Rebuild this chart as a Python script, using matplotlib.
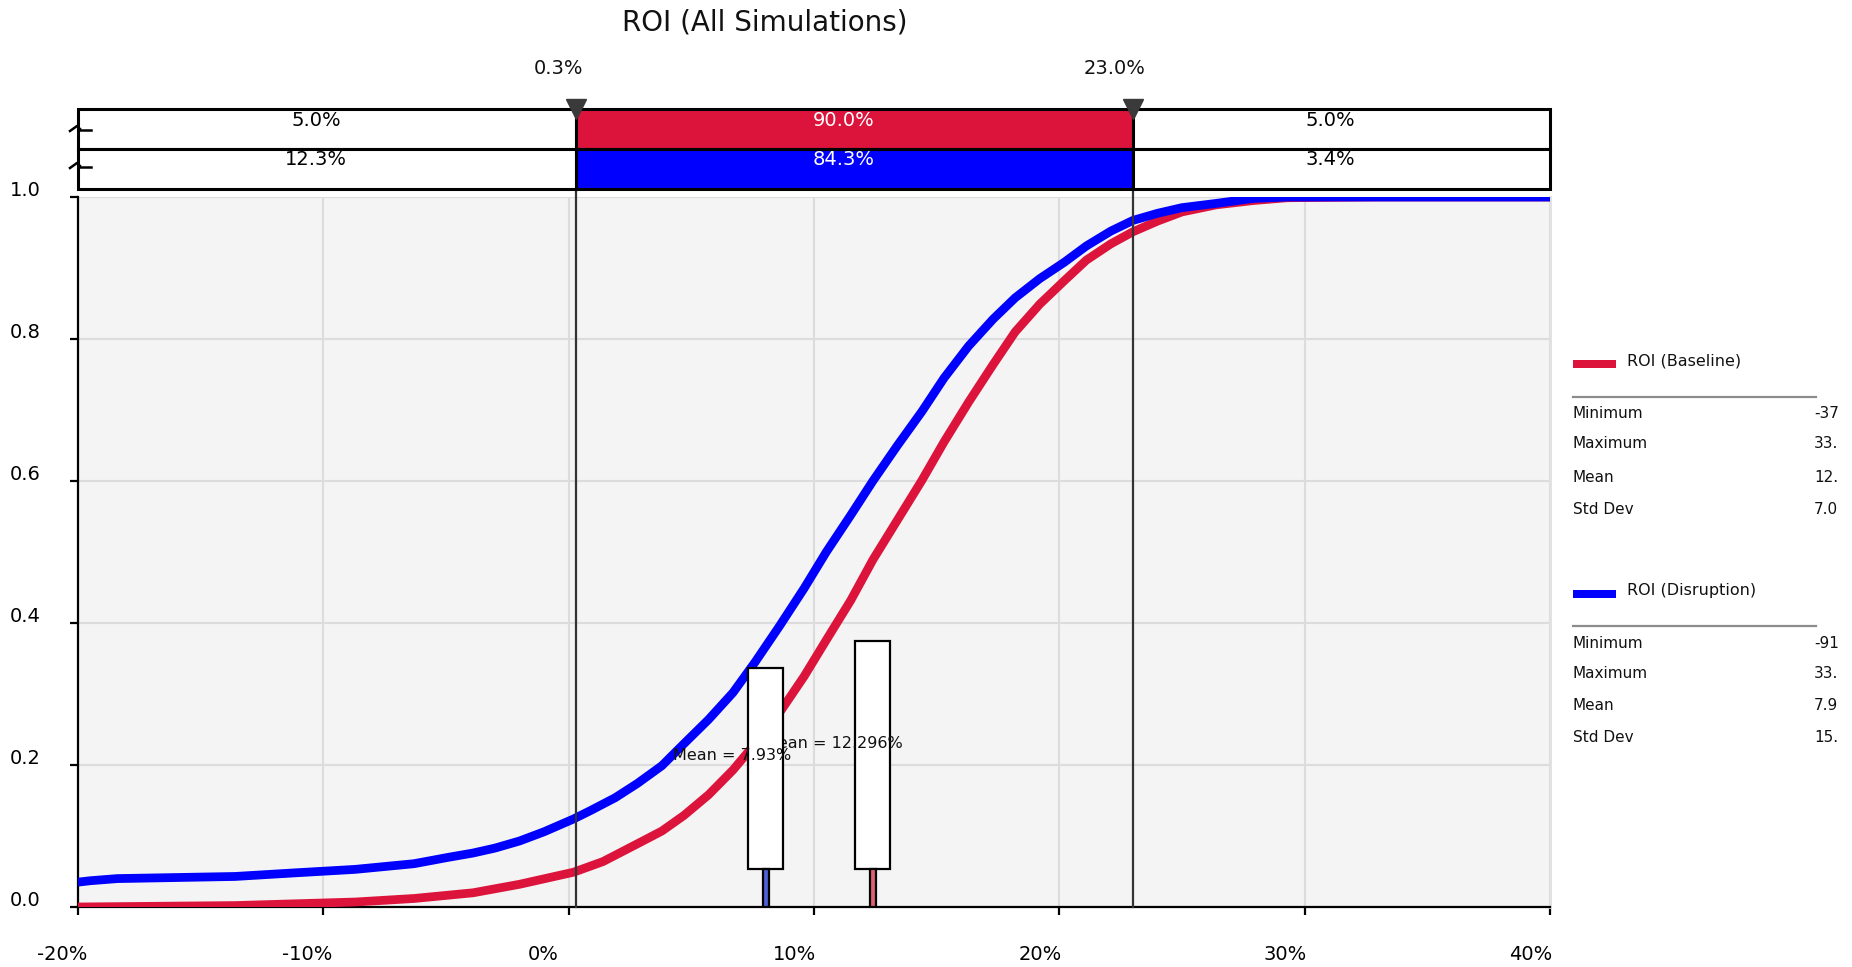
import matplotlib
matplotlib.use("Agg")
import matplotlib.pyplot as plt
from matplotlib.transforms import Affine2D, ScaledTranslation, Bbox, TransformedBbox
from matplotlib.lines import Line2D
from matplotlib.patches import Rectangle

plt.rcParams['font.family'] = ['DejaVu Sans']

## --------------------------- Data --------------------------------------

title = "ROI (All Simulations)"
series_names = ["ROI (Baseline)", "ROI (Disruption)"]
series_colors = ["#DC143C", "#0000FF"]
stem_colors = ["#E0606F", "#4F5FD6"]

# cumulative curves (x in %, cumulative probability)
base_x = [-20, -13.6, -8.7, -6.3, -3.9, -2.0, 0.2, 1.4, 2.8, 3.8, 4.7, 5.7, 6.7, 7.6, 8.6, 9.6,
          10.5, 11.5, 12.4, 13.4, 14.4, 15.3, 16.3, 17.3, 18.2, 19.2, 20.2, 21.1, 22.1, 23.0,
          24.0, 25.0, 26.4, 27.9, 29.3, 33.0, 40.0]
base_p = [0.0, 0.002, 0.007, 0.012, 0.020, 0.032, 0.049, 0.064, 0.089, 0.107, 0.129, 0.158, 0.193, 0.230, 0.274, 0.325,
          0.376, 0.432, 0.489, 0.545, 0.601, 0.655, 0.711, 0.764, 0.810, 0.849, 0.882, 0.911, 0.934, 0.951,
          0.966, 0.979, 0.989, 0.995, 0.999, 1.0, 1.0]

disr_x = [-20, -19.5, -18.4, -13.6, -11.2, -8.7, -6.3, -4.9, -3.9, -3.0, -2.0, -1.0, 0.2, 0.9, 1.9, 2.8,
          3.8, 4.7, 5.7, 6.7, 7.6, 8.6, 9.6, 10.5, 11.5, 12.4, 13.4, 14.4, 15.3, 16.3, 17.3, 18.2,
          19.2, 20.2, 21.1, 22.1, 23.0, 24.0, 25.0, 26.4, 27.9, 29.3, 33.0, 40.0]
disr_p = [0.035, 0.037, 0.040, 0.043, 0.048, 0.053, 0.061, 0.070, 0.076, 0.083, 0.093, 0.106, 0.124, 0.136, 0.154, 0.174,
          0.199, 0.230, 0.264, 0.302, 0.345, 0.396, 0.449, 0.500, 0.552, 0.600, 0.650, 0.698, 0.745, 0.790, 0.828, 0.858,
          0.885, 0.908, 0.931, 0.952, 0.967, 0.977, 0.985, 0.991, 0.998, 1.0, 1.0, 1.0]

# delimiters and band percentages
delims = [0.3, 23.0]
band_edges = [-20.0, 0.3, 23.0, 40.0]
base_pct = ["5.0%", "90.0%", "5.0%"]
disr_pct = ["12.3%", "84.3%", "3.4%"]

# mean markers
means = [12.296, 7.93]
mean_labels = ["Mean = 12.296%", "Mean = 7.93%"]
mean_label_x = [10.77, 6.66]
mean_label_y = [0.230, 0.213]
box_top = [0.374, 0.336]
box_bottom = 0.054

# legend statistics
stat_names = ["Minimum", "Maximum", "Mean", "Std Dev"]
base_stats = ["-37.30%", "33.27%", "12.30%", "7.03%"]
disr_stats = ["-91.32%", "33.27%", "7.93%", "15.53%"]

x_ticks = [-20, -10, 0, 10, 20, 30, 40]
y_ticks = [0.0, 0.2, 0.4, 0.6, 0.8, 1.0]

## --------------------------- Figure --------------------------------------

W, H = 1852, 967
fig = plt.figure(figsize=(W / 100, H / 100), dpi=100)
pix = Affine2D().scale(1.0 / W, -1.0 / H).translate(0, 1) + fig.transFigure


def px_rect(l, t, r, b):
    return [l / W, 1 - b / H, (r - l) / W, (b - t) / H]


def pt(p):
    return p * 0.72


ax = fig.add_axes(px_rect(78, 197, 1550, 907))
band = fig.add_axes(px_rect(78, 109, 1550, 188.5))

## --------------------------- Main plot --------------------------------------

ax.set_facecolor("#F4F4F4")
ax.set_xlim(-20, 40)
ax.set_ylim(0, 1)
ax.grid(True, color="#DCDCDC", linewidth=1.5, zorder=0)
ax.set_axisbelow(True)
ax.spines["top"].set_visible(False)
ax.spines["right"].set_color("#E0E0E0")
ax.spines["right"].set_linewidth(2)
ax.spines["left"].set_linewidth(1.6)
ax.spines["bottom"].set_linewidth(1.6)

ax.plot(base_x, base_p, color=series_colors[0], linewidth=6.3, zorder=3,
        solid_joinstyle="round", solid_capstyle="butt")
ax.plot(disr_x, disr_p, color=series_colors[1], linewidth=6.3, zorder=4,
        solid_joinstyle="round", solid_capstyle="butt")

for d in delims:
    ax.axvline(d, ymin=0, ymax=(907 - 109) / 710.0, color="#333333", linewidth=1.6,
               clip_on=False, zorder=5)

# mean boxes: baseline first, then disruption
for i in range(2):
    z = 6 + 3 * i
    ax.bar(means[i] + 0.1, box_top[i] - box_bottom, bottom=box_bottom, width=1.43, color="white",
           edgecolor="black", linewidth=1.6, zorder=z)
    ax.bar(means[i] + 0.1, box_bottom, width=0.245, color=stem_colors[i], edgecolor="black",
           linewidth=1.6, zorder=z)
    ax.text(mean_label_x[i], mean_label_y[i], mean_labels[i], ha="center", va="center",
            fontsize=11.5, color="#111111", zorder=z + 1)

ax.set_xticks(x_ticks)
ax.set_xticklabels([f"{v}%" for v in x_ticks])
ax.set_yticks(y_ticks)
ax.set_yticklabels([f"{v:.1f}" for v in y_ticks])
ax.tick_params(axis="x", direction="out", length=6, width=1.6, labelsize=14, pad=21)
ax.tick_params(axis="y", direction="out", length=6, width=1.6, labelsize=14, pad=21)
for lab in ax.get_xticklabels():
    lab.set_horizontalalignment("left")
    lab.set_transform(lab.get_transform() + ScaledTranslation(-41 / 100, 0, fig.dpi_scale_trans))
for lab in ax.get_yticklabels():
    lab.set_transform(lab.get_transform() + ScaledTranslation(0, 9 / 100, fig.dpi_scale_trans))

## --------------------------- Top band --------------------------------------

band.set_xlim(-20, 40)
band.set_ylim(0, 2)
band.axis("off")
lefts = band_edges[:-1]
widths = [band_edges[k + 1] - band_edges[k] for k in range(3)]
band.barh(1.5, widths, left=lefts, height=1, color=["white", series_colors[0], "white"],
          edgecolor="black", linewidth=2.2, clip_on=False)
band.barh(0.5, widths, left=lefts, height=1, color=["white", series_colors[1], "white"],
          edgecolor="black", linewidth=2.2, clip_on=False)
for k in range(3):
    c = (band_edges[k] + band_edges[k + 1]) / 2
    col = "white" if k == 1 else "black"
    band.annotate(base_pct[k], xy=(c, 2), xytext=(pt(-11), pt(-12)), textcoords="offset points",
                  ha="center", va="center", fontsize=14, color=col)
    band.annotate(disr_pct[k], xy=(c, 1), xytext=(pt(-11), pt(-11)), textcoords="offset points",
                  ha="center", va="center", fontsize=14, color=col)

band.plot(delims, [2, 2], linestyle="none", marker="v", markersize=15, color="#3A3A3A",
          clip_on=False, zorder=10)
for d in delims:
    band.annotate(f"{d:.1f}%", xy=(d, 2), xytext=(pt(-18), pt(41)), textcoords="offset points",
                  ha="center", va="center", fontsize=14, color="#111111", annotation_clip=False)

# little break marks on the band's left edge
for dy in [0, 37]:
    fig.add_artist(Line2D([70, 77, 80], [131 + dy, 126 + dy, 129 + dy], transform=pix,
                          color="black", linewidth=1.8))
    fig.add_artist(Line2D([78, 91], [130 + dy, 130 + dy], transform=pix,
                          color="black", linewidth=1.8))

## --------------------------- Title and legend --------------------------------------

fig.text(765, 23, title, transform=pix, ha="center", va="center", fontsize=20, color="#111111")

clip = TransformedBbox(Bbox([[0, 0], [1838 / W, 1]]), fig.transFigure)
legend_rows = [(364, 397, [413, 444, 477, 509], base_stats),
               (594, 626, [643, 673, 706, 737], disr_stats)]
for i, (sy, ly, rows, vals) in enumerate(legend_rows):
    fig.add_artist(Rectangle((1573, sy - 4), 43, 8, transform=pix, color=series_colors[i], lw=0))
    fig.text(1627, sy - 3, series_names[i], transform=pix, ha="left", va="center",
             fontsize=11.5, color="#111111")
    fig.add_artist(Line2D([1573, 1816], [ly, ly], transform=pix, color="#8C8C8C", linewidth=1.6))
    for r, name, v in zip(rows, stat_names, vals):
        fig.text(1573, r, name, transform=pix, ha="left", va="center", fontsize=11, color="#111111")
        t = fig.text(1814, r, v, transform=pix, ha="left", va="center", fontsize=11, color="#111111")
        t.set_clip_box(clip)
        t.set_clip_on(True)

fig.savefig("out.png", dpi=100)
